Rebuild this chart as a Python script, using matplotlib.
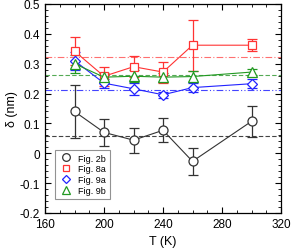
import numpy as np
import matplotlib
matplotlib.use('Agg')
import matplotlib.pyplot as plt
from matplotlib.ticker import MultipleLocator
from matplotlib.lines import Line2D

plt.rcParams['font.family'] = ['Liberation Sans', 'DejaVu Sans']

# Temperatures (K)
T = [180, 200, 220, 240, 260, 300]

# Fig. 2b
d_2b = [0.14, 0.07, 0.044, 0.077, -0.027, 0.107]
e_2b = [0.09, 0.045, 0.042, 0.04, 0.045, 0.053]
# Fig. 8a
d_8a = [0.342, 0.258, 0.29, 0.272, 0.362, 0.362]
e_8a = [0.047, 0.032, 0.035, 0.035, 0.085, 0.02]
# Fig. 9a
d_9a = [0.31, 0.235, 0.216, 0.196, 0.22, 0.233]
e_9a = [0.03, 0.015, 0.02, 0.01, 0.015, 0.015]
# Fig. 9b
d_9b = [0.30, 0.255, 0.258, 0.255, 0.257, 0.272]
e_9b = [0.03, 0.015, 0.02, 0.015, 0.018, 0.01]

# mean levels
mean_2b = 0.058
mean_8a = 0.322
mean_9a = 0.212
mean_9b = 0.262

fig = plt.figure(figsize=(2.93, 2.51), dpi=100)
ax = fig.add_axes([45 / 293, 37 / 251, 236 / 293, 209 / 251])

ax.axhline(mean_8a, color='#ff7070', lw=0.8, dashes=[6, 2, 1, 2])
ax.axhline(mean_9b, color='#55aa55', lw=0.8, dashes=[4, 2])
ax.axhline(mean_9a, color='#4444ff', lw=0.8, dashes=[6, 2, 1, 2, 1, 2])
ax.axhline(mean_2b, color='#444444', lw=0.8, dashes=[4, 2])

series = [
    (d_2b, e_2b, '#333333', 'o', 'Fig. 2b', 6.5),
    (d_8a, e_8a, '#ff3333', 's', 'Fig. 8a', 5.8),
    (d_9a, e_9a, '#2222ff', 'D', 'Fig. 9a', 4.8),
    (d_9b, e_9b, '#229922', '^', 'Fig. 9b', 6.5),
]
for d, e, c, m, lab, ms in series:
    ax.errorbar(T, d, yerr=e, color=c, marker=m, mfc='white', mec=c,
                ms=ms, mew=0.9, lw=0.8, capsize=3.5, capthick=0.9,
                elinewidth=0.9, label=lab)

ax.set_xlim(160, 320)
ax.set_ylim(-0.2, 0.5)
ax.xaxis.set_major_locator(MultipleLocator(40))
ax.xaxis.set_minor_locator(MultipleLocator(10))
ax.yaxis.set_minor_locator(MultipleLocator(0.02))
ax.set_yticks([-0.2, -0.1, 0, 0.1, 0.2, 0.3, 0.4, 0.5])
ax.set_yticklabels(['-0.2', '-0.1', '0', '0.1', '0.2', '0.3', '0.4', '0.5'])
ax.tick_params(which='both', direction='in', top=True, right=True,
               labelsize=8.5)
ax.tick_params(which='major', length=4, width=0.8)
ax.tick_params(which='minor', length=2, width=0.6)
for s in ax.spines.values():
    s.set_linewidth(0.9)

ax.set_xlabel('T (K)', fontsize=9, labelpad=4)
ax.set_ylabel('δ (nm)', fontsize=9, labelpad=1)

labels = [s[4] for s in series]
hs = [Line2D([], [], color=c, marker=m, mfc='white', mec=c, ms=ms * 0.85,
             mew=0.9, ls='none') for d, e, c, m, lab, ms in series]
leg = ax.legend(hs, labels, loc='lower left', bbox_to_anchor=(0.025, 0.045),
                fontsize=6.5, frameon=True, fancybox=False,
                edgecolor='#777777', handletextpad=0.7, labelspacing=0.2,
                borderpad=0.45, handlelength=1.4)
leg.get_frame().set_linewidth(0.8)

fig.savefig('out.png', dpi=100)
